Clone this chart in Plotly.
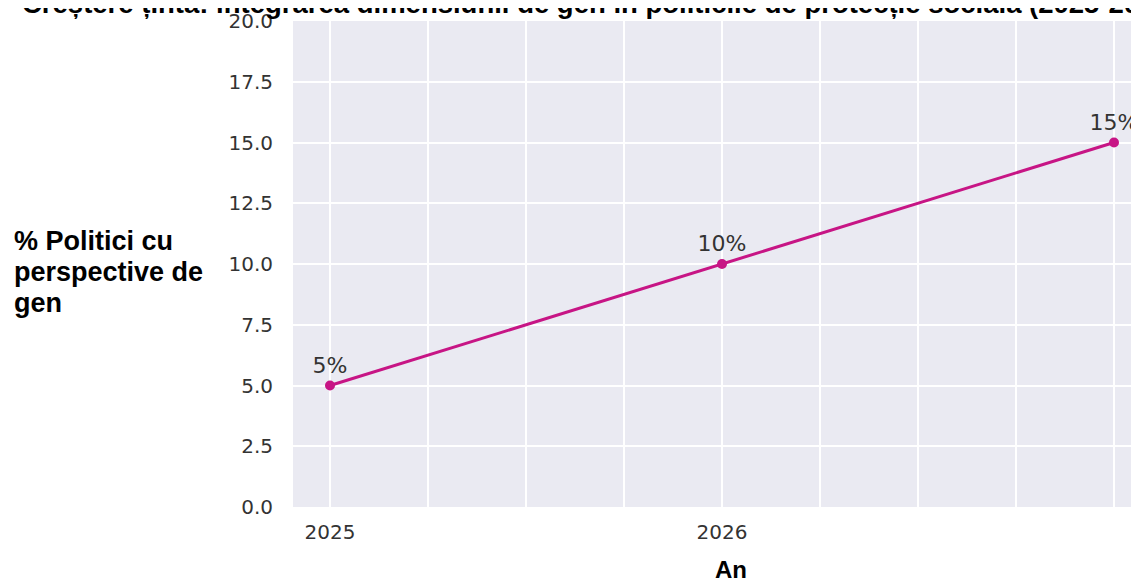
import plotly.graph_objects as go

years = [2025, 2026, 2027]
values = [5, 10, 15]
labels = ["5%", "10%", "15%"]
title_text = "Creștere țintă: integrarea dimensiunii de gen în politicile de protecție socială (2025-2027)"
ytitle_lines = ["% Politici cu", "perspective de", "gen"]
xtitle = "An"

OFF = 8  # page body margin
W, H = 1131, 575
L, T, B, R = 293 - OFF, 21 - OFF, 76, 0
plot_w = W - L - R
plot_h = H - T - B

fig = go.Figure()
fig.add_trace(go.Scatter(
    x=years, y=values, mode="lines+markers+text",
    text=labels, textposition="top center",
    textfont=dict(family="DejaVu Sans", size=22, color="#333333"),
    line=dict(color="#C71585", width=3),
    marker=dict(color="#C71585", size=10),
    hoverinfo="skip", showlegend=False,
))

def px_x(p):
    return (p - OFF - L) / plot_w

def px_y(p):
    return (H - B - (p - OFF)) / plot_h

annotations = []
for line, base in zip(ytitle_lines, [250, 281, 312]):
    annotations.append(dict(
        text=line, xref="paper", yref="paper", x=px_x(12), y=px_y(base - 9),
        xanchor="left", yanchor="middle", showarrow=False,
        font=dict(family="Liberation Sans", size=27, color="black", weight="bold"),
    ))
annotations.append(dict(
    text=xtitle, xref="paper", yref="paper", x=px_x(731), y=px_y(577 - 8),
    xanchor="center", yanchor="middle", showarrow=False,
    font=dict(family="Liberation Sans", size=24, color="black", weight="bold"),
))
annotations.append(dict(
    text=title_text, xref="paper", yref="paper", x=px_x(20), y=px_y(3),
    xanchor="left", yanchor="middle", showarrow=False,
    font=dict(family="Liberation Sans", size=27.5, color="black", weight="bold"),
))

fig.update_layout(
    width=W, height=H,
    margin=dict(l=L, r=R, t=T, b=B, pad=0),
    paper_bgcolor="white", plot_bgcolor="#EAEAF2",
    annotations=annotations,
    xaxis=dict(
        range=[2025 - 37 / 392, 2027 + 25 / 392],
        tickvals=years, ticktext=[str(y) for y in years],
        showgrid=True, gridcolor="white", gridwidth=1.5,
        minor=dict(dtick=0.25, showgrid=True, gridcolor="white", gridwidth=1.5),
        zeroline=False, showline=False, ticks="",
        ticklabelstandoff=11,
        tickfont=dict(family="DejaVu Sans", size=20, color="#333333"),
    ),
    yaxis=dict(
        range=[0, 20], dtick=2.5, tick0=0, tickformat=".1f",
        showgrid=True, gridcolor="white", gridwidth=1.5,
        zeroline=False, showline=False, ticks="",
        ticklabelstandoff=19,
        tickfont=dict(family="DejaVu Sans", size=20, color="#333333"),
    ),
)

fig.write_html("out.html")
